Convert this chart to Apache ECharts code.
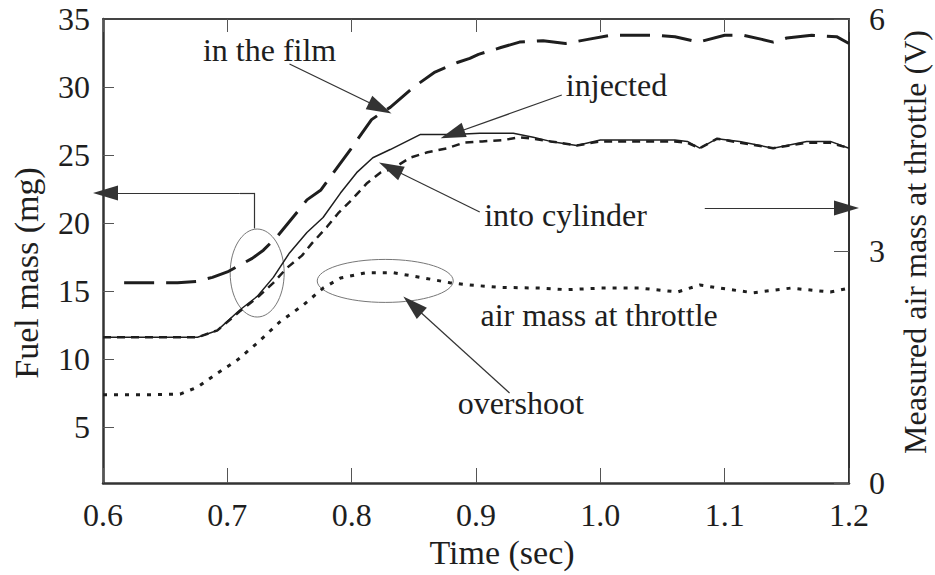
<!DOCTYPE html>
<html>
<head>
<meta charset="utf-8">
<title>Fuel mass vs time</title>
<script src="https://cdn.jsdelivr.net/npm/echarts@6/dist/echarts.min.js"></script>
<style>
  html, body { margin: 0; padding: 0; background: #fff; }
  #main { width: 935px; height: 575px; }
</style>
</head>
<body>
<div id="main"></div>
<script>
// fuel in the wall film (mg)
const filmTime = [0.617, 0.64, 0.66, 0.675, 0.688, 0.70, 0.708, 0.72, 0.729, 0.74, 0.758, 0.764, 0.775, 0.787, 0.799, 0.816, 0.824, 0.831, 0.85, 0.867, 0.885, 0.895, 0.902, 0.92, 0.935, 0.954, 0.972, 0.99, 1.008, 1.03, 1.046, 1.06, 1.079, 1.10, 1.115, 1.13, 1.139, 1.15, 1.17, 1.19, 1.2];
const filmMass = [15.6, 15.6, 15.6, 15.7, 16.0, 16.4, 16.8, 17.4, 18.0, 19.0, 21.0, 21.7, 22.4, 23.9, 25.4, 27.6, 28.1, 28.5, 30.0, 31.1, 31.8, 32.1, 32.4, 32.9, 33.3, 33.4, 33.2, 33.5, 33.8, 33.8, 33.8, 33.7, 33.3, 33.8, 33.8, 33.5, 33.3, 33.6, 33.8, 33.7, 33.2];

// injected fuel (mg)
const injTime = [0.60, 0.63, 0.66, 0.676, 0.692, 0.71, 0.724, 0.737, 0.75, 0.764, 0.777, 0.791, 0.804, 0.817, 0.831, 0.855, 0.882, 0.903, 0.93, 0.946, 0.96, 0.981, 1.0, 1.03, 1.06, 1.07, 1.08, 1.094, 1.112, 1.139, 1.166, 1.185, 1.2];
const injMass = [11.6, 11.6, 11.6, 11.6, 12.1, 13.6, 14.6, 16.0, 17.8, 19.3, 20.4, 22.2, 23.7, 24.8, 25.4, 26.5, 26.5, 26.6, 26.6, 26.3, 26.0, 25.7, 26.1, 26.1, 26.1, 26.0, 25.5, 26.2, 26.0, 25.5, 26.0, 26.0, 25.5];

// fuel into cylinder (mg)
const cylTime = [0.60, 0.63, 0.66, 0.676, 0.692, 0.71, 0.724, 0.737, 0.748, 0.76, 0.768, 0.78, 0.789, 0.80, 0.812, 0.823, 0.833, 0.847, 0.861, 0.877, 0.89, 0.905, 0.922, 0.935, 0.946, 0.96, 0.981, 1.0, 1.03, 1.06, 1.07, 1.08, 1.094, 1.112, 1.139, 1.166, 1.185, 1.2];
const cylMass = [11.6, 11.6, 11.6, 11.6, 12.1, 13.5, 14.5, 15.6, 16.7, 17.6, 18.5, 19.7, 20.7, 21.7, 22.9, 23.7, 24.0, 24.8, 25.2, 25.5, 25.9, 26.0, 26.1, 26.3, 26.2, 26.0, 25.7, 26.0, 26.0, 26.0, 25.9, 25.5, 26.2, 25.9, 25.5, 25.9, 25.9, 25.5];

// measured air mass at throttle (V)
const airTime = [0.60, 0.63, 0.662, 0.676, 0.692, 0.708, 0.724, 0.742, 0.761, 0.777, 0.791, 0.812, 0.833, 0.855, 0.879, 0.895, 0.919, 0.951, 0.973, 1.0, 1.032, 1.062, 1.08, 1.096, 1.123, 1.153, 1.185, 1.2];
const airVolt = [1.14, 1.14, 1.15, 1.24, 1.42, 1.59, 1.81, 2.08, 2.30, 2.52, 2.65, 2.72, 2.72, 2.66, 2.59, 2.56, 2.53, 2.52, 2.50, 2.52, 2.52, 2.47, 2.56, 2.52, 2.46, 2.52, 2.47, 2.52];

const leftTicks = [5, 10, 15, 20, 25, 30, 35];

// annotations, in time / fuel-mass coordinates
const labels = [
  { text: 'in the film', at: [0.734, 32.7] },
  { text: 'injected', at: [1.013, 30.15] },
  { text: 'into cylinder', at: [0.972, 20.6] },
  { text: 'air mass at throttle', at: [0.999, 13.25] },
  { text: 'overshoot', at: [0.936, 6.76] }
];
const arrows = [
  [[0.750, 31.69], [0.823, 28.46]],
  [[0.969, 29.41], [0.881, 26.54]],
  [[0.903, 20.81], [0.831, 24.04]],
  [[0.927, 7.5], [0.849, 13.97]],
  [[0.710, 22.21], [0.602, 22.21]],
  [[1.084, 21.1], [1.198, 21.1]]
];
const connectors = [
  [[0.722, 22.21], [0.710, 22.21]],
  [[0.722, 22.21], [0.722, 19.6]]
];
const ellipses = [
  { at: [0.724, 16.32], rx: 27, ry: 44 },
  { at: [0.827, 15.74], rx: 68, ry: 21.5 }
];

function zip(a, b) {
  return a.map(function (v, i) { return [v, b[i]]; });
}

const serif = 'Liberation Serif';
const ink = '#1e1e1e';

const chart = echarts.init(document.getElementById('main'), null, { renderer: 'svg' });

const arrowData = arrows.map(function (p) {
  return [{ coord: p[0], symbol: 'none' }, { coord: p[1], symbol: 'triangle', symbolSize: [15, 25] }];
}).concat(connectors.map(function (p) {
  return [{ coord: p[0], symbol: 'none' }, { coord: p[1], symbol: 'none' }];
}));

chart.setOption({
  animation: false,
  backgroundColor: '#fff',
  grid: { left: 103, right: 86, top: 19, bottom: 92, outerBoundsMode: 'none', containLabel: false },
  xAxis: [
    {
      type: 'value', position: 'bottom', min: 0.6, max: 1.2, interval: 0.1,
      name: 'Time (sec)', nameLocation: 'middle', nameGap: 52,
      nameTextStyle: { fontFamily: serif, fontSize: 34, color: ink, padding: [0, 0, 0, 52] },
      axisLine: { show: true, lineStyle: { color: '#333', width: 2.5 } },
      axisTick: { show: true, inside: true, length: 15, lineStyle: { color: '#555', width: 1 } },
      axisLabel: {
        margin: 16, fontFamily: serif, fontSize: 32, color: ink,
        formatter: function (v) { return v.toFixed(1); }
      },
      splitLine: { show: false }
    },
    {
      type: 'value', position: 'top', min: 0.6, max: 1.2, interval: 0.1,
      axisLine: { show: true, lineStyle: { color: '#444', width: 2 } },
      axisTick: { show: true, inside: true, length: 13, lineStyle: { color: '#555', width: 1 } },
      axisLabel: { show: false },
      splitLine: { show: false }
    }
  ],
  yAxis: [
    {
      type: 'value', position: 'left', min: 0.88, max: 35,
      name: 'Fuel mass (mg)', nameLocation: 'middle', nameGap: 60,
      nameTextStyle: { fontFamily: serif, fontSize: 34, color: ink, padding: [0, 44, 0, 0] },
      axisLine: { show: true, lineStyle: { color: '#333', width: 2.5 } },
      axisTick: { show: true, inside: true, length: 11, customValues: leftTicks.slice(0, 6), lineStyle: { color: '#555', width: 1 } },
      axisLabel: { margin: 13, fontFamily: serif, fontSize: 32, color: ink, customValues: leftTicks },
      splitLine: { show: false }
    },
    {
      type: 'value', position: 'right', min: 0, max: 6, interval: 3,
      name: 'Measured air mass at throttle (V)', nameLocation: 'middle', nameGap: 50,
      nameTextStyle: { fontFamily: serif, fontSize: 32, color: ink, padding: [0, 0, 0, 18] },
      axisLine: { show: true, lineStyle: { color: '#333', width: 2 } },
      axisTick: { show: true, inside: true, length: 15, lineStyle: { color: '#555', width: 1 } },
      axisLabel: { margin: 20, fontFamily: serif, fontSize: 32, color: ink },
      splitLine: { show: false }
    }
  ],
  series: [
    {
      name: 'in the film', type: 'line', symbol: 'none', silent: true,
      data: zip(filmTime, filmMass),
      lineStyle: { color: ink, width: 3, type: [30, 12] }
    },
    {
      name: 'injected', type: 'line', symbol: 'none', silent: true,
      data: zip(injTime, injMass),
      lineStyle: { color: ink, width: 1.5 },
      markLine: {
        silent: true, animation: false,
        label: { show: false },
        lineStyle: { color: '#333', width: 1.2, type: 'solid' },
        data: arrowData
      }
    },
    {
      name: 'into cylinder', type: 'line', symbol: 'none', silent: true,
      data: zip(cylTime, cylMass),
      lineStyle: { color: ink, width: 2.5, type: [8, 6] }
    },
    {
      name: 'air mass at throttle', type: 'line', symbol: 'none', silent: true,
      yAxisIndex: 1,
      data: zip(airTime, airVolt),
      lineStyle: { color: ink, width: 3, type: [4, 7] }
    }
  ]
});

// texts and ellipses placed from data coordinates
const graphics = [];
ellipses.forEach(function (e) {
  const p = chart.convertToPixel({ xAxisIndex: 0, yAxisIndex: 0 }, e.at);
  graphics.push({
    type: 'ellipse', silent: true,
    shape: { cx: p[0], cy: p[1], rx: e.rx, ry: e.ry },
    style: { fill: 'none', stroke: '#777', lineWidth: 1 }
  });
});
labels.forEach(function (l) {
  const p = chart.convertToPixel({ xAxisIndex: 0, yAxisIndex: 0 }, l.at);
  graphics.push({
    type: 'text', silent: true, x: p[0], y: p[1],
    style: {
      text: l.text, fill: ink, font: '32px "Liberation Serif"',
      align: 'center', verticalAlign: 'middle'
    }
  });
});
chart.setOption({ graphic: graphics });
</script>
</body>
</html>
